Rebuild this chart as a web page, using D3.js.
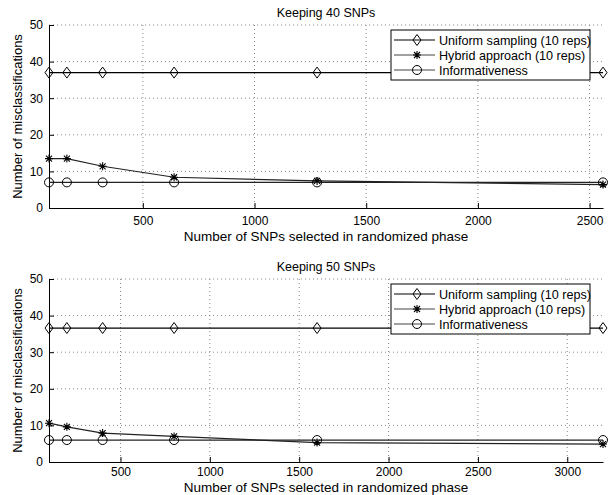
<!DOCTYPE html>
<html>
<head>
<meta charset="utf-8">
<script src="https://cdn.jsdelivr.net/npm/d3@7"></script>
<style>
  body { margin: 0; background: #fff; }
  text { font-family: "Liberation Sans", Arial, Helvetica, sans-serif; }
</style>
</head>
<body>
<svg id="chart" width="611" height="495"></svg>
<script>
// panel 1: keeping 40 SNPs
const snps40 = [80, 160, 320, 640, 1280, 2560];
const uniform40 = [37, 37, 37, 37, 37, 37];
const hybrid40 = [13.5, 13.5, 11.4, 8.4, 7.4, 6.4];
const info40 = [7, 7, 7, 7, 7, 7];
const xTicks40 = [500, 1000, 1500, 2000, 2500];

// panel 2: keeping 50 SNPs
const snps50 = [100, 200, 400, 800, 1600, 3200];
const uniform50 = [36.6, 36.6, 36.6, 36.6, 36.6, 36.6];
const hybrid50 = [10.6, 9.6, 7.9, 7.0, 5.3, 4.9];
const info50 = [6, 6, 6, 6, 6, 6];
const xTicks50 = [500, 1000, 1500, 2000, 2500, 3000];

const yTicks = [0, 10, 20, 30, 40, 50];
const seriesNames = ['Uniform sampling (10 reps)', 'Hybrid approach (10 reps)', 'Informativeness'];
const markers = ['diamond', 'star', 'circle'];

const svg = d3.select('#chart');

// draw a marker centred at 0,0
function drawMarker(g, type) {
  if (type === 'diamond') {
    g.append('path').attr('d', 'M0,-5.5L4,0L0,5.5L-4,0Z')
      .attr('fill', 'none').attr('stroke', '#000').attr('stroke-width', 1);
  } else if (type === 'circle') {
    g.append('circle').attr('r', 4.5)
      .attr('fill', 'none').attr('stroke', '#000').attr('stroke-width', 1);
  } else {
    const s = 4;
    const p = 'M0,-' + s + 'V' + s + 'M-' + s + ',0H' + s +
      'M-3,-3L3,3M-3,3L3,-3';
    g.append('path').attr('d', p).attr('stroke', '#000').attr('stroke-width', 1.1);
  }
}

function drawPanel(cfg) {
  const { top, bottom, left, right, xs, series, xTicks, title, labelGap, tickPad } = cfg;

  const x = d3.scaleLinear().domain([xs[0], xs[xs.length - 1]]).range([left, right]);
  const y = d3.scaleLinear().domain([0, 50]).range([bottom, top]);

  const g = svg.append('g');

  // dotted grid
  g.append('g').selectAll('line.gy').data(yTicks.filter(d => d > 0)).enter()
    .append('line')
    .attr('x1', left).attr('x2', right)
    .attr('y1', d => y(d)).attr('y2', d => y(d))
    .attr('stroke', '#888').attr('stroke-width', 1)
    .attr('stroke-dasharray', '1,3');
  g.append('g').selectAll('line.gx').data(xTicks).enter()
    .append('line')
    .attr('x1', d => x(d)).attr('x2', d => x(d))
    .attr('y1', top).attr('y2', bottom)
    .attr('stroke', '#888').attr('stroke-width', 1)
    .attr('stroke-dasharray', '1,3');

  // axes, inward ticks
  const yAxis = d3.axisLeft(y).tickValues(yTicks).tickSizeInner(-5).tickSizeOuter(0).tickPadding(9);
  const xAxis = d3.axisBottom(x).tickValues(xTicks).tickFormat(d3.format('d'))
    .tickSizeInner(-5).tickSizeOuter(0).tickPadding(tickPad);

  const ya = g.append('g').attr('transform', `translate(${left},0)`).call(yAxis);
  const xa = g.append('g').attr('transform', `translate(0,${bottom})`).call(xAxis);
  [ya, xa].forEach(a => {
    a.select('.domain').attr('stroke', '#000');
    a.selectAll('.tick line').attr('stroke', '#000');
    a.selectAll('.tick text').attr('font-size', 12).attr('fill', '#000')
      .style('font-family', '"Liberation Sans", Arial, sans-serif');
  });
  ya.selectAll('.tick text').attr('dx', 3);
  xa.selectAll('.tick text').attr('dy', '0.71em');

  // lines and markers
  const line = d3.line().x(d => x(d[0])).y(d => y(d[1]));
  series.forEach((vals, i) => {
    const pts = xs.map((v, j) => [v, vals[j]]);
    g.append('path').datum(pts).attr('d', line)
      .attr('fill', 'none').attr('stroke', i === 0 ? '#000' : '#222').attr('stroke-width', 1.2);
    pts.forEach(p => {
      const m = g.append('g').attr('transform', `translate(${x(p[0])},${y(p[1])})`);
      drawMarker(m, markers[i]);
    });
  });

  // titles
  svg.append('text').attr('x', (left + right) / 2).attr('y', top - 8)
    .attr('text-anchor', 'middle').attr('font-size', 12.5).text(title);
  svg.append('text').attr('x', (left + right) / 2).attr('y', bottom + labelGap)
    .attr('text-anchor', 'middle').attr('font-size', 13.5)
    .text('Number of SNPs selected in randomized phase');
  svg.append('text')
    .attr('transform', `translate(22,${(top + bottom) / 2}) rotate(-90)`)
    .attr('text-anchor', 'middle').attr('font-size', 13)
    .text('Number of misclassifications');

  // legend
  const lx = 391, lw = 199, ly = top + 5, lh = 50;
  const leg = g.append('g');
  leg.append('rect').attr('x', lx).attr('y', ly).attr('width', lw).attr('height', lh)
    .attr('fill', '#fff').attr('stroke', '#000').attr('stroke-width', 1);
  seriesNames.forEach((name, i) => {
    const yy = ly + 10 + i * 15;
    leg.append('line').attr('x1', lx + 3).attr('x2', lx + 44)
      .attr('y1', yy).attr('y2', yy).attr('stroke', i === 0 ? '#000' : '#444').attr('stroke-width', 1.2);
    drawMarker(leg.append('g').attr('transform', `translate(${lx + 26},${yy})`), markers[i]);
    leg.append('text').attr('x', lx + 48).attr('y', yy + 4.5)
      .attr('font-size', 12.6).text(name);
  });
}

drawPanel({
  top: 25, bottom: 208, left: 49, right: 603,
  xs: snps40, series: [uniform40, hybrid40, info40],
  xTicks: xTicks40, title: 'Keeping 40 SNPs', labelGap: 33, tickPad: 8
});
drawPanel({
  top: 279, bottom: 462, left: 49, right: 603,
  xs: snps50, series: [uniform50, hybrid50, info50],
  xTicks: xTicks50, title: 'Keeping 50 SNPs', labelGap: 30, tickPad: 5
});
</script>
</body>
</html>
